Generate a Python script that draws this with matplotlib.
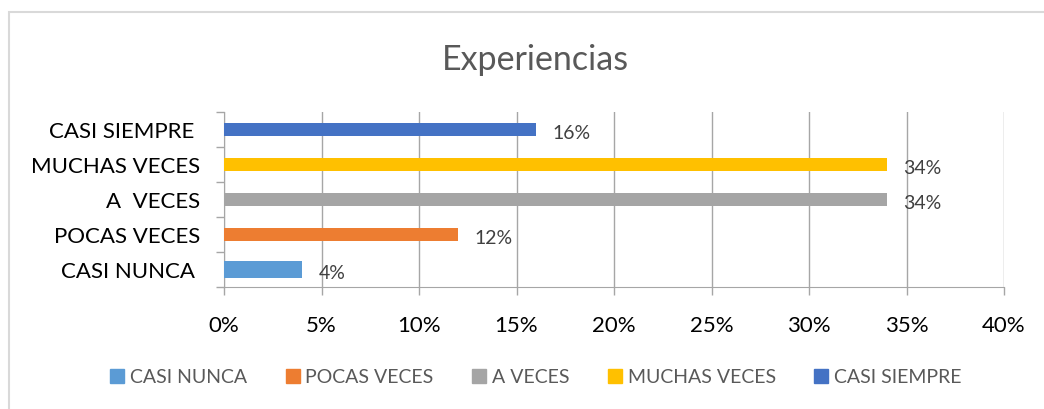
import matplotlib.pyplot as plt
from matplotlib.lines import Line2D
from matplotlib.patches import Rectangle
from matplotlib.ticker import PercentFormatter

plt.rcParams['font.family'] = ['Lato', 'DejaVu Sans']

# data
categories = ["CASI NUNCA ", "POCAS VECES", "A  VECES", "MUCHAS VECES", "CASI SIEMPRE "]
legend_names = ["CASI NUNCA", "POCAS VECES", "A VECES", "MUCHAS VECES", "CASI SIEMPRE"]
values = [4, 12, 34, 34, 16]
xticks = [0, 5, 10, 15, 20, 25, 30, 35, 40]

colors = ["#5B9BD5", "#ED7D31", "#A5A5A5", "#FFC000", "#4472C4"]
bar_heights = [0.5, 0.36, 0.36, 0.36, 0.36]

W, H = 1044, 410
fig = plt.figure(figsize=(W / 100, H / 100), dpi=100)

# light frame around the chart area
fig.patches.append(Rectangle((9 / W, -0.1), 1.2, (H - 13) / H + 0.1,
                             transform=fig.transFigure, fill=False,
                             edgecolor="#d9d9d9", linewidth=1.5))

ax = fig.add_axes([224 / W, (H - 288) / H, 780 / W, 175.3 / H])

ypos = list(range(len(categories)))
for i in range(len(categories)):
    ax.barh(ypos[i], values[i], height=bar_heights[i], color=colors[i], zorder=3)
    ax.text(values[i] + 0.85, ypos[i] - 0.1, f"{values[i]}%", fontsize=14,
            color="#404040", va="center", ha="left", zorder=4)

ax.set_xlim(0, 40)
ax.set_ylim(-0.5, len(categories) - 0.5)
ax.set_xticks(xticks)
ax.xaxis.set_major_formatter(PercentFormatter(decimals=0))
ax.set_yticks([y - 0.5 for y in ypos] + [len(categories) - 0.5])
ax.set_yticklabels([])
ax.set_yticks(ypos, minor=True)
ax.set_yticklabels(categories, minor=True, fontsize=16, color="black")
ax.tick_params(axis="y", which="minor", length=0, pad=17)
ax.tick_params(axis="y", which="major", length=6, color="#a6a6a6", width=1)
ax.tick_params(axis="x", length=6, color="#a6a6a6", width=1, labelsize=16,
               pad=14, labelcolor="black")

ax.grid(axis="x", color="#a6a6a6", linewidth=1, zorder=0)
for s in ["top", "right"]:
    ax.spines[s].set_visible(False)
ax.spines["left"].set_color("#a6a6a6")
ax.spines["bottom"].set_color("#a6a6a6")

fig.text(535 / W, 1 - 60 / H, "Experiencias", fontsize=24.5, color="#595959",
         ha="center", va="center")

# legend with square markers
handles = [Line2D([], [], marker="s", linestyle="", markersize=9.5, color=c)
           for c in colors]
fig.legend(handles, legend_names, loc="center", bbox_to_anchor=(536 / W, 32 / H),
           ncol=5, frameon=False, fontsize=14, labelcolor="#595959",
           handlelength=0.7, handletextpad=0.3, columnspacing=2.0)

fig.savefig("out.png", dpi=100)
